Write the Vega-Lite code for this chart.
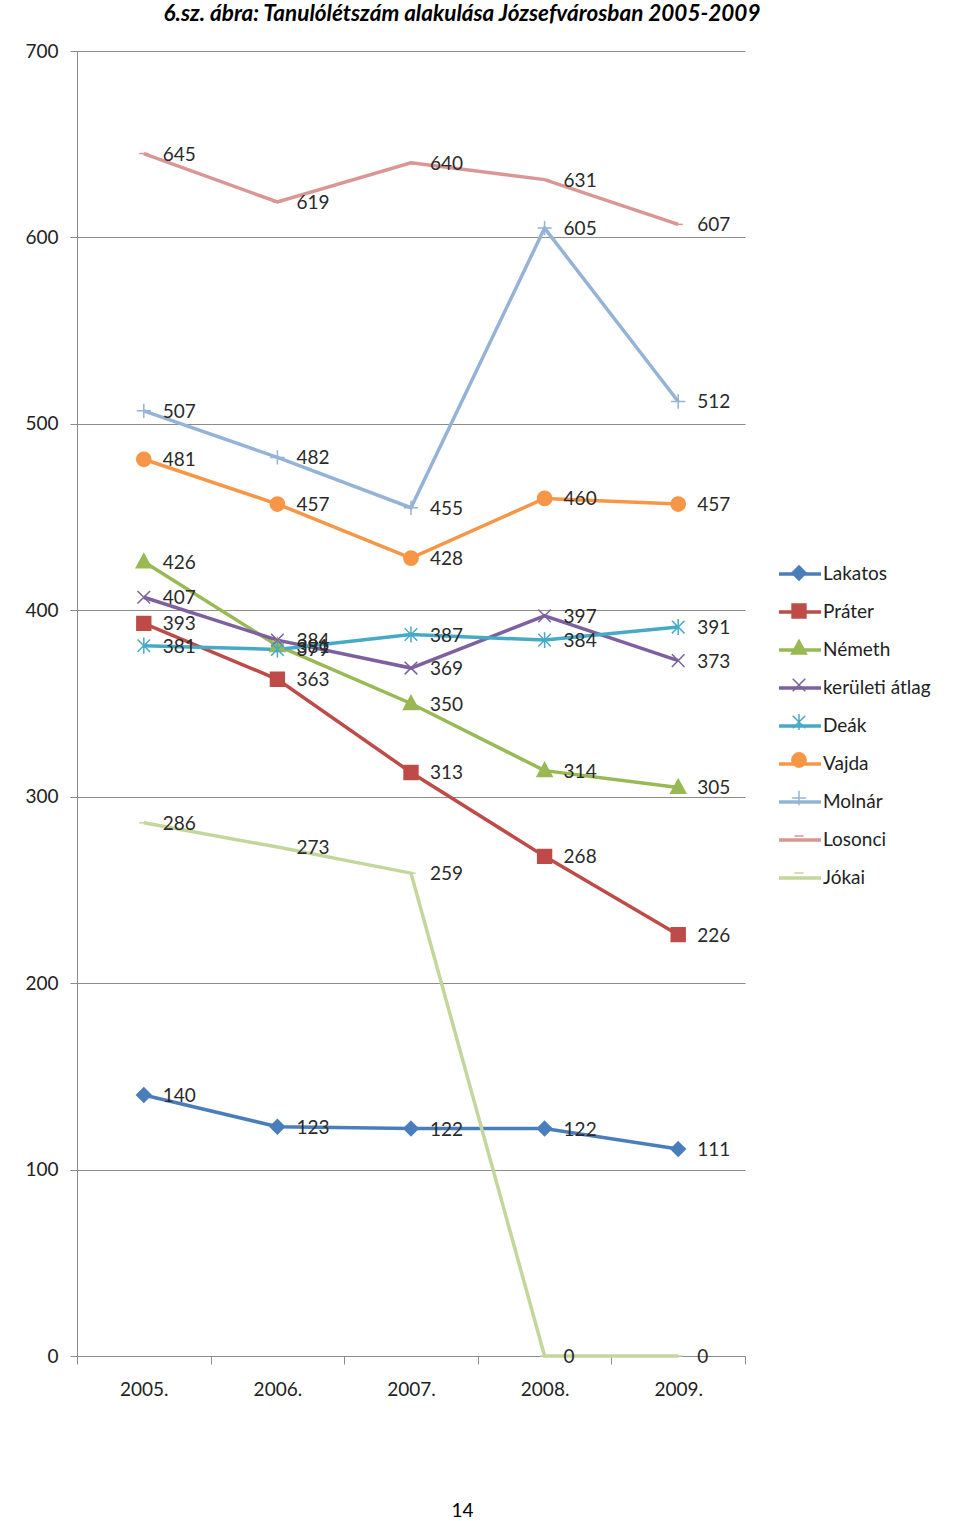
{
  "$schema": "https://vega.github.io/schema/vega-lite/v6.json",
  "width": 668,
  "height": 1305,
  "autosize": {"type": "none"},
  "padding": {"left": 77, "top": 51, "right": 215, "bottom": 165},
  "background": "white",
  "title": {
    "text": "6.sz. ábra: Tanulólétszám alakulása Józsefvárosban 2005-2009",
    "font": "Lato",
    "fontSize": 22.5,
    "fontStyle": "italic",
    "fontWeight": "bold",
    "color": "#000000",
    "anchor": "middle",
    "frame": "group",
    "dx": 51,
    "offset": 17
  },
  "config": {
    "view": {"stroke": null},
    "font": "Lato",
    "axis": {"labelFont": "Lato", "labelFontSize": 19, "labelColor": "#222222", "domainColor": "#8c8c8c", "tickColor": "#8c8c8c", "gridColor": "#8c8c8c", "gridOpacity": 1}
  },
  "data": {
    "values": [
      {"year": "2005.", "series": "Lakatos", "value": 140},
      {"year": "2006.", "series": "Lakatos", "value": 123},
      {"year": "2007.", "series": "Lakatos", "value": 122},
      {"year": "2008.", "series": "Lakatos", "value": 122},
      {"year": "2009.", "series": "Lakatos", "value": 111},
      {"year": "2005.", "series": "Práter", "value": 393},
      {"year": "2006.", "series": "Práter", "value": 363},
      {"year": "2007.", "series": "Práter", "value": 313},
      {"year": "2008.", "series": "Práter", "value": 268},
      {"year": "2009.", "series": "Práter", "value": 226},
      {"year": "2005.", "series": "Németh", "value": 426},
      {"year": "2006.", "series": "Németh", "value": 381},
      {"year": "2007.", "series": "Németh", "value": 350},
      {"year": "2008.", "series": "Németh", "value": 314},
      {"year": "2009.", "series": "Németh", "value": 305},
      {"year": "2005.", "series": "kerületi átlag", "value": 407},
      {"year": "2006.", "series": "kerületi átlag", "value": 384},
      {"year": "2007.", "series": "kerületi átlag", "value": 369},
      {"year": "2008.", "series": "kerületi átlag", "value": 397},
      {"year": "2009.", "series": "kerületi átlag", "value": 373},
      {"year": "2005.", "series": "Deák", "value": 381},
      {"year": "2006.", "series": "Deák", "value": 379},
      {"year": "2007.", "series": "Deák", "value": 387},
      {"year": "2008.", "series": "Deák", "value": 384},
      {"year": "2009.", "series": "Deák", "value": 391},
      {"year": "2005.", "series": "Vajda", "value": 481},
      {"year": "2006.", "series": "Vajda", "value": 457},
      {"year": "2007.", "series": "Vajda", "value": 428},
      {"year": "2008.", "series": "Vajda", "value": 460},
      {"year": "2009.", "series": "Vajda", "value": 457},
      {"year": "2005.", "series": "Molnár", "value": 507},
      {"year": "2006.", "series": "Molnár", "value": 482},
      {"year": "2007.", "series": "Molnár", "value": 455},
      {"year": "2008.", "series": "Molnár", "value": 605},
      {"year": "2009.", "series": "Molnár", "value": 512},
      {"year": "2005.", "series": "Losonci", "value": 645},
      {"year": "2006.", "series": "Losonci", "value": 619},
      {"year": "2007.", "series": "Losonci", "value": 640},
      {"year": "2008.", "series": "Losonci", "value": 631},
      {"year": "2009.", "series": "Losonci", "value": 607},
      {"year": "2005.", "series": "Jókai", "value": 286},
      {"year": "2006.", "series": "Jókai", "value": 273},
      {"year": "2007.", "series": "Jókai", "value": 259},
      {"year": "2008.", "series": "Jókai", "value": 0},
      {"year": "2009.", "series": "Jókai", "value": 0}
    ]
  },
  "encoding": {
    "x": {
      "field": "year",
      "type": "nominal",
      "scale": {"type": "band", "paddingInner": 0, "paddingOuter": 0},
      "axis": {
        "labelAngle": 0,
        "tickBand": "extent",
        "tickSize": 8,
        "labelPadding": 16,
        "title": "14",
        "titleFont": "Lato",
        "titleFontSize": 19,
        "titleFontWeight": "normal",
        "titleColor": "#000000",
        "titleX": 385,
        "titleY": 154,
        "titleBaseline": "middle",
        "titleAnchor": "middle"
      }
    },
    "y": {
      "field": "value",
      "type": "quantitative",
      "scale": {"domain": [0, 700], "nice": false},
      "axis": {
        "values": [0, 100, 200, 300, 400, 500, 600, 700],
        "grid": true,
        "tickSize": 7,
        "labelPadding": 12,
        "title": null
      }
    }
  },
  "layer": [
    {
      "mark": {"type": "line", "strokeWidth": 3.5},
      "encoding": {
        "color": {
          "field": "series",
          "type": "nominal",
          "scale": {
            "domain": ["Lakatos", "Práter", "Németh", "kerületi átlag", "Deák", "Vajda", "Molnár", "Losonci", "Jókai"],
            "range": ["#4A7EBB", "#BE4B48", "#98B954", "#7D60A0", "#46AAC5", "#F79646", "#95B3D7", "#D99694", "#C3D69B"]
          },
          "legend": {
            "title": null,
            "orient": "none",
            "legendX": 700,
            "legendY": 500,
            "symbolType": "M-1,0H1",
            "symbolSize": 1764,
            "symbolStrokeWidth": 3.5,
            "labelFont": "Lato",
            "labelFontSize": 19,
            "labelColor": "#222222",
            "labelOffset": 0,
            "rowPadding": 5
          }
        }
      }
    },
    {
      "mark": {"type": "point", "size": 1764, "strokeWidth": 1.5, "opacity": 1},
      "encoding": {
        "shape": {
          "field": "series",
          "type": "nominal",
          "sort": ["Lakatos", "Práter", "Németh", "kerületi átlag", "Deák", "Vajda", "Molnár", "Losonci", "Jókai"],
          "scale": {
            "range": [
              "M0,-0.34L0.34,0L0,0.34L-0.34,0Z",
              "M-0.33,-0.33H0.33V0.33H-0.33Z",
              "M0,-0.38L0.36,0.28H-0.36Z",
              "M-0.3,-0.3L0.3,0.3M-0.3,0.3L0.3,-0.3",
              "M-0.3,-0.3L0.3,0.3M-0.3,0.3L0.3,-0.3M0,-0.38V0.38",
              "M-0.34,0A0.34,0.34,0,1,0,0.34,0A0.34,0.34,0,1,0,-0.34,0Z",
              "M-0.34,0H0.34M0,-0.34V0.34",
              "M-0.22,0H0.22",
              "M-0.22,0H0.22"
            ]
          },
          "legend": {
            "title": null,
            "orient": "none",
            "legendX": 700,
            "legendY": 500,
            "symbolSize": 1764,
            "symbolStrokeWidth": 1.5,
            "symbolOpacity": 1,
            "symbolFillColor": {"expr": "scale('fill', datum.value)"},
            "symbolStrokeColor": {"expr": "scale('stroke', datum.value)"},
            "labelFont": "Lato",
            "labelFontSize": 19,
            "labelOpacity": 0,
            "labelOffset": 0,
            "rowPadding": 5
          }
        },
        "fill": {
          "field": "series",
          "type": "nominal",
          "scale": {
            "domain": ["Lakatos", "Práter", "Németh", "kerületi átlag", "Deák", "Vajda", "Molnár", "Losonci", "Jókai"],
            "range": ["#4A7EBB", "#BE4B48", "#98B954", "#7D60A0", "#46AAC5", "#F79646", "#95B3D7", "#D99694", "#C3D69B"]
          },
          "legend": null
        },
        "stroke": {
          "field": "series",
          "type": "nominal",
          "scale": {
            "domain": ["Lakatos", "Práter", "Németh", "kerületi átlag", "Deák", "Vajda", "Molnár", "Losonci", "Jókai"],
            "range": ["#4A7EBB", "#BE4B48", "#98B954", "#7D60A0", "#46AAC5", "#F79646", "#95B3D7", "#D99694", "#C3D69B"]
          },
          "legend": null
        }
      }
    },
    {
      "mark": {"type": "text", "align": "left", "baseline": "middle", "dx": 19, "dy": 1, "font": "Lato", "fontSize": 19, "color": "#2a2a2a"},
      "encoding": {
        "text": {"field": "value", "type": "quantitative"}
      }
    }
  ]
}
